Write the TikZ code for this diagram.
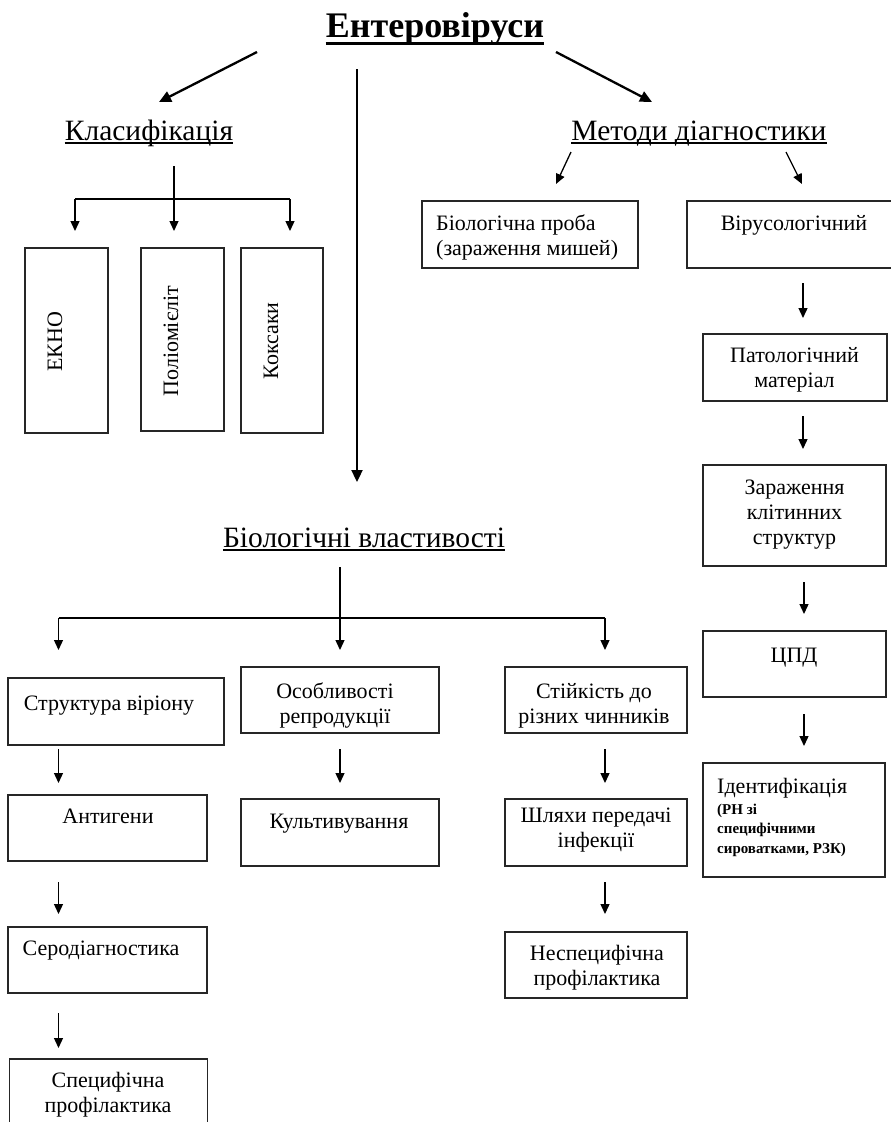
\documentclass[tikz,border=0pt]{standalone}
\usepackage{fontspec}
\setmainfont{Liberation Serif}
\usetikzlibrary{arrows.meta}
\begin{document}
\begin{tikzpicture}[x=1pt,y=-1pt,
  bx/.style={draw=black!85, line width=1.3pt, inner sep=0pt},
  txt/.style={inner sep=0pt, font=\fontsize{22}{25}\selectfont, align=center},
  ltxt/.style={inner sep=0pt, font=\fontsize{22}{25}\selectfont, align=left},
  small/.style={inner sep=0pt, font=\fontsize{15}{19.5}\selectfont\bfseries, align=left},
  rot/.style={inner sep=0pt, font=\fontsize{22}{25}\selectfont, rotate=90, anchor=base},
  hd/.style={inner sep=0pt, font=\fontsize{29.5}{33}\selectfont, anchor=base},
  ttl/.style={inner sep=0pt, font=\fontsize{36}{40}\selectfont\bfseries, anchor=base},
  arr/.style={line width=1.3pt, -{Triangle[width=9pt,length=10pt]}},
  bigarr/.style={line width=2.3pt, -{Triangle[width=11pt,length=12pt]}},
  ln/.style={line width=1.3pt}
]
\clip (0,0) rectangle (891,1122);
\fill[white] (0,0) rectangle (891,1122);

% ---------- title and headings ----------
\node[ttl] (title) at (435,37) {Ентеровіруси};
\draw[line width=2.6pt] ([yshift=-6.5pt]title.base west) -- ([yshift=-6.5pt]title.base east);

\node[hd] (klas) at (149,140) {Класифікація};
\draw[line width=1.2pt] ([yshift=-3pt]klas.base west) -- ([yshift=-3pt]klas.base east);

\node[hd] (met) at (699,140) {Методи діагностики};
\draw[line width=1.2pt] ([yshift=-3pt]met.base west) -- ([yshift=-3pt]met.base east);

\node[hd] (biol) at (364,547) {Біологічні властивості};
\draw[line width=1.2pt] ([yshift=-3pt]biol.base west) -- ([yshift=-3pt]biol.base east);

% ---------- main arrows ----------
\coordinate (tL0) at (257,52);  \coordinate (tL1) at (159,102);
\coordinate (tR0) at (556,52);  \coordinate (tR1) at (652,102);
\coordinate (tM0) at (357,69);  \coordinate (tM1) at (357,482);
\draw[bigarr] (tL0) -- (tL1);
\draw[bigarr] (tR0) -- (tR1);
\draw[bigarr] (tM0) -- (tM1);

% ---------- classification ----------
\node[bx, minimum width=83pt, minimum height=185pt] (ekho) at (66.5,340.5) {};
\node[bx, minimum width=83pt, minimum height=183pt] (polio) at (182.5,339.5) {};
\node[bx, minimum width=82pt, minimum height=185pt] (koks) at (282,340.5) {};
\node[rot] (ekhot) at (62,342) {ЕКНО};
\node[rot] (poliot) at (178,341) {Поліомієліт};
\node[rot] (kokst) at (278,341) {Коксаки};

\coordinate (k0) at (174,166);
\coordinate (kL) at (75,199);  \coordinate (kR) at (290,199);
\coordinate (kLe) at (75,231); \coordinate (kMe) at (174,231); \coordinate (kRe) at (290,231);
\draw[arr] (k0) -- (kMe);
\draw[ln] (kL) -- (kR);
\draw[arr] (kL) -- (kLe);
\draw[arr] (kR) -- (kRe);

% ---------- methods of diagnostics ----------
\coordinate (m1a) at (571,152); \coordinate (m1b) at (556,184);
\coordinate (m2a) at (786,152); \coordinate (m2b) at (802,184);
\draw[arr] (m1a) -- (m1b);
\draw[arr] (m2a) -- (m2b);

\node[bx, minimum width=216pt, minimum height=67pt] (bprob) at (530,234.5) {};
\node[ltxt, anchor=base west] (bprobt) at (436,255) {Біологічна проба\\(зараження мишей)};

\node[bx, minimum width=210pt, minimum height=67pt] (vir) at (792,234.5) {};
\node[txt, anchor=base] (virt) at (794,230) {Вірусологічний};

\node[bx, minimum width=184pt, minimum height=67pt] (pat) at (795,367.5) {};
\node[txt, anchor=base] (patt) at (794.5,387) {Патологічний\\матеріал};

\node[bx, minimum width=183pt, minimum height=101pt] (zar) at (794.5,515.5) {};
\node[txt, anchor=base] (zart) at (794.5,544) {Зараження\\клітинних\\структур};

\node[bx, minimum width=183pt, minimum height=66pt] (cpd) at (794.5,664) {};
\node[txt, anchor=base] (cpdt) at (794,662) {ЦПД};

\node[bx, minimum width=182pt, minimum height=114pt] (ident) at (794,820) {};
\node[ltxt, anchor=base west] (identt) at (717,793) {Ідентифікація};
\node[small, anchor=base west] (idents) at (717,853) {(РН зі\\специфічними\\сироватками, РЗК)};

\coordinate (v1a) at (803,283); \coordinate (v1b) at (803,318);
\coordinate (v2a) at (803,416); \coordinate (v2b) at (803,449);
\coordinate (v3a) at (804,582); \coordinate (v3b) at (804,614);
\coordinate (v4a) at (804,714); \coordinate (v4b) at (804,746);
\draw[arr] (v1a) -- (v1b);
\draw[arr] (v2a) -- (v2b);
\draw[arr] (v3a) -- (v3b);
\draw[arr] (v4a) -- (v4b);

% ---------- biological properties ----------
\coordinate (b0) at (340,567);
\coordinate (bL) at (58.5,618); \coordinate (bR) at (605,618);
\coordinate (bLe) at (58.5,650); \coordinate (bMe) at (340,650); \coordinate (bRe) at (605,650);
\draw[arr] (b0) -- (bMe);
\draw[ln] (bL) -- (bR);
\draw[arr] (bL) -- (bLe);
\draw[arr] (bR) -- (bRe);

% level 1
\node[bx, minimum width=216pt, minimum height=67pt] (str) at (116,711.5) {};
\node[txt, anchor=base] (strt) at (109,710) {Структура віріону};
\node[bx, minimum width=198pt, minimum height=66pt] (osob) at (340,700) {};
\node[txt, anchor=base] (osobt) at (335,723) {Особливості\\репродукції};
\node[bx, minimum width=182pt, minimum height=66pt] (stiy) at (596,700) {};
\node[txt, anchor=base] (stiyt) at (594,723) {Стійкість до\\різних чинників};

\coordinate (a1a) at (58.5,749); \coordinate (a1b) at (58.5,783);
\coordinate (a2a) at (340,749);  \coordinate (a2b) at (340,783);
\coordinate (a3a) at (605,749);  \coordinate (a3b) at (605,783);
\draw[arr] (a1a) -- (a1b);
\draw[arr] (a2a) -- (a2b);
\draw[arr] (a3a) -- (a3b);

% level 2
\node[bx, minimum width=199pt, minimum height=66pt] (anti) at (107.5,828) {};
\node[txt, anchor=base] (antit) at (108,823) {Антигени};
\node[bx, minimum width=198pt, minimum height=67pt] (kult) at (340,832.5) {};
\node[txt, anchor=base] (kultt) at (339,828) {Культивування};
\node[bx, minimum width=182pt, minimum height=67pt] (shl) at (596,832.5) {};
\node[txt, anchor=base] (shlt) at (596,847) {Шляхи передачі\\інфекції};

\coordinate (c1a) at (58.5,882); \coordinate (c1b) at (58.5,914);
\coordinate (c3a) at (605,882);  \coordinate (c3b) at (605,914);
\draw[arr] (c1a) -- (c1b);
\draw[arr] (c3a) -- (c3b);

% level 3
\node[bx, minimum width=199pt, minimum height=66pt] (sero) at (107.5,960) {};
\node[txt, anchor=base] (serot) at (101,955) {Серодіагностика};
\node[bx, minimum width=182pt, minimum height=66pt] (nesp) at (596,965) {};
\node[txt, anchor=base] (nespt) at (597,985) {Неспецифічна\\профілактика};

\coordinate (d1a) at (58.5,1013); \coordinate (d1b) at (58.5,1048);
\draw[arr] (d1a) -- (d1b);

% level 4
\node[bx, minimum width=198pt, minimum height=100pt] (spec) at (108.5,1109) {};
\node[txt, anchor=base] (spect) at (108,1112) {Специфічна\\профілактика};
\end{tikzpicture}
\end{document}
